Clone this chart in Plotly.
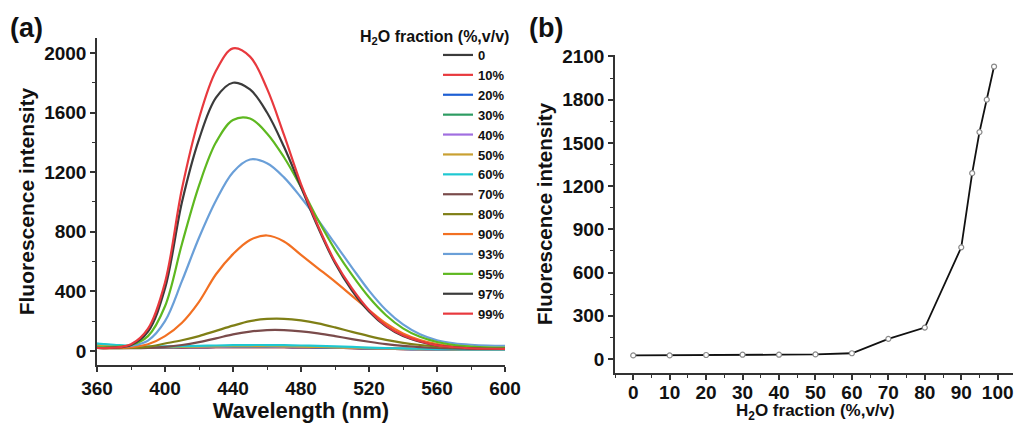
import plotly.graph_objects as go

W, H = 1018, 423

# ---------------- data ----------------
wavelength = [360, 370, 380, 390, 400, 410, 420, 430, 440, 450, 460, 470, 480,
              490, 500, 510, 520, 530, 540, 550, 560, 570, 580, 590, 600]

labels = ["0", "10%", "20%", "30%", "40%", "50%", "60%", "70%", "80%", "90%",
          "93%", "95%", "97%", "99%"]

s0 = [30, 26, 23, 22, 22, 23, 24, 25, 25, 25, 25, 25, 24, 23, 21, 19, 17, 15, 13, 12, 11, 10, 9, 9, 8]
s10 = [35, 30, 25, 23, 23, 23, 24, 25, 25, 25, 25, 25, 24, 23, 21, 19, 17, 15, 13, 12, 11, 10, 9, 9, 8]
s20 = [40, 32, 26, 24, 24, 25, 26, 27, 28, 28, 28, 27, 26, 24, 22, 20, 18, 16, 14, 12, 11, 10, 9, 9, 8]
s30 = [48, 38, 30, 26, 26, 27, 28, 29, 30, 30, 30, 29, 28, 26, 24, 21, 19, 16, 14, 12, 11, 10, 9, 9, 9]
s40 = [45, 36, 29, 26, 26, 27, 28, 29, 30, 30, 30, 29, 28, 26, 24, 21, 19, 16, 14, 12, 11, 10, 9, 9, 9]
s50 = [42, 34, 28, 26, 26, 27, 29, 31, 32, 32, 32, 31, 29, 27, 24, 22, 19, 17, 15, 13, 12, 11, 10, 10, 10]
s60 = [50, 42, 34, 31, 31, 32, 34, 37, 39, 40, 40, 39, 37, 34, 31, 27, 23, 20, 17, 15, 13, 12, 11, 11, 11]
s70 = [20, 19, 19, 21, 27, 40, 60, 85, 112, 130, 140, 140, 132, 118, 100, 80, 62, 46, 34, 26, 20, 17, 15, 14, 14]
s80 = [20, 19, 20, 28, 50, 72, 100, 135, 170, 200, 215, 216, 205, 185, 158, 128, 100, 75, 55, 40, 30, 24, 20, 18, 17]
s90 = [20, 20, 25, 45, 100, 190, 330, 515, 650, 745, 775, 735, 645, 555, 465, 370, 275, 185, 118, 74, 47, 31, 23, 18, 16]
s93 = [22, 25, 35, 70, 200, 470, 760, 1010, 1200, 1285, 1260, 1165, 1030, 880, 720, 560, 405, 275, 178, 112, 72, 52, 42, 37, 35]
s95 = [25, 28, 40, 100, 300, 720, 1110, 1400, 1550, 1560, 1460, 1300, 1100, 880, 680, 510, 360, 240, 152, 95, 60, 40, 30, 24, 22]
s97 = [20, 22, 40, 130, 420, 1000, 1420, 1700, 1800, 1755, 1600, 1370, 1100, 830, 590, 405, 265, 165, 100, 62, 38, 25, 18, 15, 14]
s99 = [20, 22, 45, 150, 460, 1090, 1560, 1880, 2030, 1975, 1760, 1450, 1120, 840, 600, 420, 275, 170, 105, 65, 38, 25, 18, 15, 14]

spectra = [s0, s10, s20, s30, s40, s50, s60, s70, s80, s90, s93, s95, s97, s99]

colors = ["#3b3b3b", "#e8393e", "#1d5fd4", "#2e9c62", "#a06ee0", "#c9a032",
          "#1fc8d2", "#7a4b4b", "#7f7f16", "#f27022", "#6a9fd8", "#5eb820",
          "#3b3b3b", "#e8393e"]

water_fraction = [0, 10, 20, 30, 40, 50, 60, 70, 80, 90, 93, 95, 97, 99]
peak_intensity = [25, 25, 28, 30, 30, 32, 40, 140, 218, 775, 1290, 1575, 1800, 2030]

# ---------------- figure ----------------
FONT = "Liberation Sans, Arial, sans-serif"
AX = "#333333"
TXT = "#111111"

fig = go.Figure()

for lab, ys, col in zip(labels, spectra, colors):
    fig.add_trace(go.Scatter(
        x=wavelength, y=ys, name=lab, mode="lines",
        line=dict(color=col, width=2.2, shape="spline", smoothing=1.0),
        xaxis="x", yaxis="y", showlegend=True))

fig.add_trace(go.Scatter(
    x=water_fraction, y=peak_intensity, mode="lines+markers",
    line=dict(color="#111111", width=1.8),
    marker=dict(symbol="circle", size=5, color="white",
                line=dict(color="#8a8a8a", width=1.2)),
    xaxis="x2", yaxis="y2", showlegend=False))


def px_x(p):
    return p / W


def px_y(p):
    return (H - p) / H


def axis(tick_size=19, **kw):
    d = dict(
        showline=True, linecolor=AX, linewidth=1.5, mirror=False,
        ticks="outside", ticklen=5, tickwidth=1.5, tickcolor=AX,
        showgrid=False, zeroline=False, automargin=False,
        tickfont=dict(family=FONT, size=tick_size, color=TXT, weight=700),
    )
    d.update(kw)
    return d


def minor(dt, t0):
    return dict(ticks="outside", ticklen=3, tickwidth=1.2, tickcolor=AX,
                dtick=dt, tick0=t0)


fig.update_layout(
    width=W, height=H,
    margin=dict(l=0, r=0, t=0, b=0, autoexpand=False),
    paper_bgcolor="white", plot_bgcolor="white",
    xaxis=axis(domain=[px_x(97), px_x(505)], range=[360, 600],
               tickmode="linear", tick0=360, dtick=40, minor=minor(20, 360),
               title=dict(text="Wavelength (nm)", standoff=4,
                          font=dict(family=FONT, size=22, color=TXT, weight=700)),
               anchor="y"),
    yaxis=axis(domain=[px_y(365), px_y(38)], range=[-94, 2100],
               tickmode="linear", tick0=0, dtick=400, minor=minor(200, 0),
               title=dict(text="Fluorescence intensity", standoff=4,
                          font=dict(family=FONT, size=21, color=TXT, weight=700)),
               anchor="x"),
    xaxis2=axis(domain=[px_x(615), px_x(1013)], range=[-5, 104.2],
                tickmode="linear", tick0=0, dtick=10, minor=minor(5, 0),
                ticklabelstandoff=-4, anchor="y2"),
    yaxis2=axis(domain=[px_y(373), px_y(55)], range=[-97, 2110],
                tickmode="linear", tick0=0, dtick=300, minor=minor(150, 0),
                title=dict(text="Fluorescence intensity", standoff=4,
                           font=dict(family=FONT, size=20.5, color=TXT, weight=700)),
                anchor="x2"),
    legend=dict(x=px_x(438), y=px_y(40), xanchor="left", yanchor="top",
                bgcolor="rgba(0,0,0,0)", borderwidth=0,
                font=dict(family=FONT, size=13, color=TXT, weight=700),
                itemwidth=30, tracegroupgap=0, traceorder="normal"),
    annotations=[
        dict(text="(a)", x=px_x(8), y=px_y(28), xref="paper", yref="paper",
             xanchor="left", yanchor="middle", showarrow=False,
             font=dict(family=FONT, size=27, color=TXT, weight=700)),
        dict(text="(b)", x=px_x(527), y=px_y(28), xref="paper", yref="paper",
             xanchor="left", yanchor="middle", showarrow=False,
             font=dict(family=FONT, size=27, color=TXT, weight=700)),
        dict(text="H<sub>2</sub>O fraction (%,v/v)", x=px_x(511), y=px_y(37),
             xref="paper", yref="paper", xanchor="right", yanchor="middle",
             showarrow=False,
             font=dict(family=FONT, size=16, color=TXT, weight=700)),
        dict(text="H<sub>2</sub>O fraction (%,v/v)", x=px_x(815), y=px_y(412),
             xref="paper", yref="paper", xanchor="center", yanchor="middle",
             showarrow=False,
             font=dict(family=FONT, size=17, color=TXT, weight=700)),
    ],
)

fig.write_html("out.html")
